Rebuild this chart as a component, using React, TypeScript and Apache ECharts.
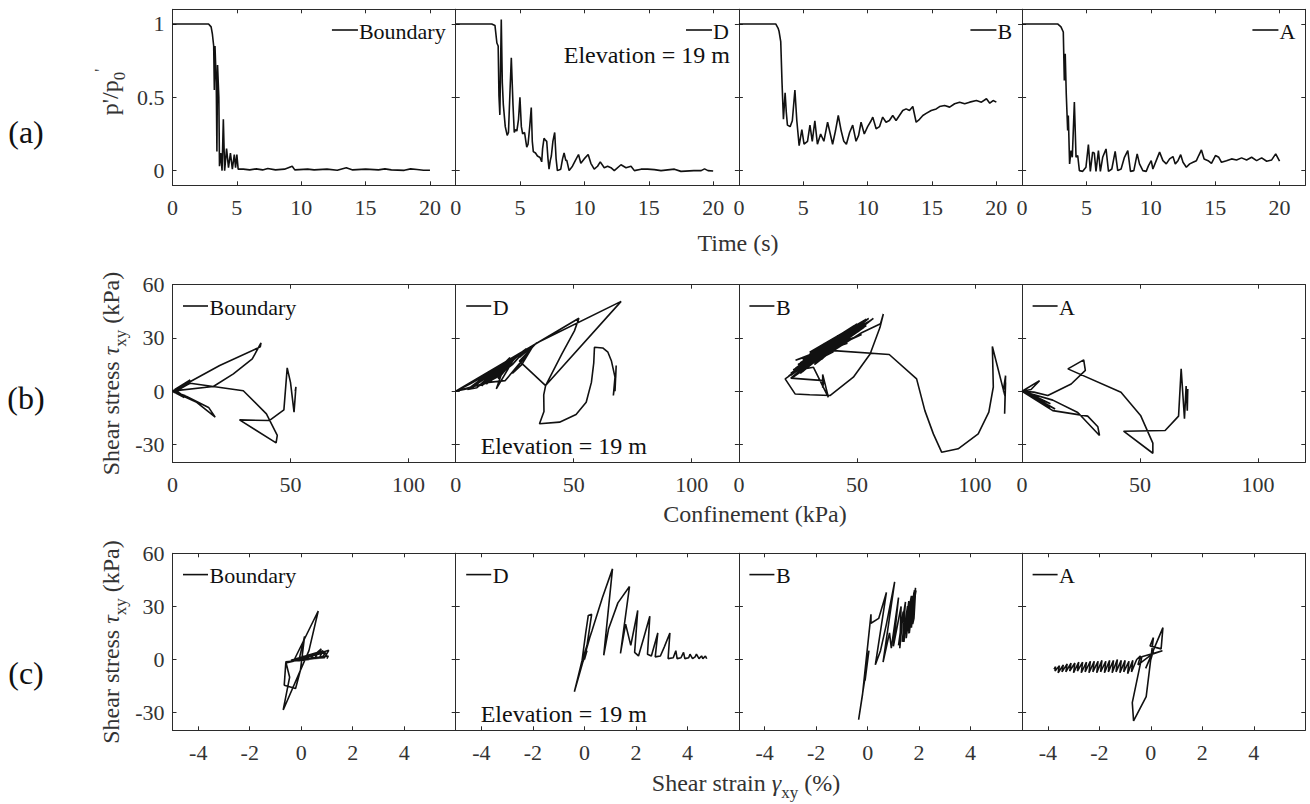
import React, { useEffect, useRef } from 'react';
import * as echarts from 'echarts';

const FONT = "'Liberation Serif', 'Times New Roman', serif";
const INK = '#333333';
const LINE = '#111111';

// ---------- categories / labels ----------
const panelNames = ['Boundary', 'D', 'B', 'A'];
const rowLetters = ['(a)', '(b)', '(c)'];
const elevationText = 'Elevation = 19 m';

// ---------- tick values ----------
const timeTicks = [0, 5, 10, 15, 20];
const ratioTicks = [0, 0.5, 1];
const confTicks = [0, 50, 100];
const stressTicks = [-30, 0, 30, 60];
const strainTicks = [-4, -2, 0, 2, 4];

// ---------- row (a): p'/p0' vs time ----------
const aBoundary: [number, number][] = [
  [0, 1], [2.8, 1], [3.0, 0.98], [3.1, 0.93], [3.2, 0.85], [3.25, 0.55], [3.3, 0.85], [3.4, 0.6], [3.45, 0.13],
  [3.5, 0.72], [3.6, 0.5], [3.65, 0.03], [3.75, 0.12], [3.85, 0.0], [3.95, 0.35], [4.05, 0.0], [4.2, 0.15],
  [4.35, 0.02], [4.5, 0.12], [4.65, 0.01], [4.8, 0.11], [4.9, 0.02], [5.0, 0.11], [5.1, 0.01], [5.5, 0.01],
  [6, 0.005], [6.5, 0.012], [7, 0.005], [7.4, 0.015], [8, 0.005], [8.7, 0.01], [9.3, 0.03], [9.5, 0.005],
  [10.5, 0.01], [11, 0.005], [12, 0.01], [12.8, 0.003], [13.5, 0.02], [14, 0.005], [15, 0.01], [16, 0.005],
  [16.5, 0.012], [17, 0.005], [18, 0.002], [18.5, 0.012], [19, 0.008], [19.5, 0.003], [20, 0.003],
];
const aD: [number, number][] = [
  [0, 1], [2.8, 1], [3.05, 0.99], [3.2, 0.87], [3.3, 0.85], [3.36, 0.51], [3.43, 0.38], [3.5, 0.8], [3.54, 1.03],
  [3.62, 0.6], [3.7, 0.45], [3.85, 0.3], [4.0, 0.24], [4.1, 0.26], [4.2, 0.5], [4.32, 0.77], [4.45, 0.45],
  [4.55, 0.26], [4.65, 0.28], [4.75, 0.27], [4.88, 0.35], [4.99, 0.5], [5.1, 0.3], [5.2, 0.25], [5.35, 0.26],
  [5.45, 0.2], [5.52, 0.16], [5.62, 0.18], [5.75, 0.3], [5.87, 0.43], [5.95, 0.2], [6.03, 0.13], [6.2, 0.12],
  [6.35, 0.1], [6.55, 0.09], [6.68, 0.06], [6.75, 0.15], [6.86, 0.22], [6.95, 0.21], [7.07, 0.2], [7.17, 0.08],
  [7.25, 0.01], [7.35, 0.07], [7.43, 0.1], [7.55, 0.2], [7.69, 0.26], [7.8, 0.08], [7.9, 0.0], [8.16, 0.01],
  [8.3, 0.08], [8.42, 0.12], [8.55, 0.07], [8.63, 0.07], [8.81, 0.0], [9.07, 0.03], [9.3, 0.07], [9.54, 0.11],
  [9.72, 0.05], [9.98, 0.08], [10.29, 0.11], [10.5, 0.05], [10.76, 0.01], [11.02, 0.03], [11.23, 0.06],
  [11.54, 0.02], [11.8, 0.03], [12.06, 0.02], [12.32, 0.0], [12.84, 0.04], [13.23, 0.02], [13.62, 0.03],
  [13.88, 0.0], [14.4, 0.01], [14.91, 0.01], [15.43, 0.007], [15.95, 0.0], [16.99, 0.01], [17.5, -0.005],
  [18.5, 0.0], [19.07, 0.0], [19.33, 0.012], [19.6, 0.0], [20, -0.003],
];
const aB: [number, number][] = [
  [0, 1], [2.86, 1], [3.05, 0.97], [3.12, 0.95], [3.25, 0.88], [3.35, 0.6], [3.46, 0.35], [3.59, 0.53], [3.68, 0.4],
  [3.77, 0.31], [3.98, 0.3], [4.15, 0.34], [4.35, 0.55], [4.5, 0.34], [4.68, 0.17], [4.89, 0.28], [5.06, 0.18],
  [5.33, 0.2], [5.52, 0.31], [5.7, 0.2], [5.9, 0.34], [6.1, 0.18], [6.35, 0.25], [6.6, 0.2], [6.89, 0.33],
  [7.1, 0.25], [7.28, 0.18], [7.5, 0.27], [7.72, 0.376], [7.95, 0.27], [8.15, 0.2], [8.35, 0.18], [8.6, 0.26],
  [8.84, 0.31], [9.1, 0.2], [9.3, 0.24], [9.49, 0.33], [9.74, 0.25], [10.0, 0.3], [10.27, 0.34], [10.4, 0.365],
  [10.66, 0.285], [10.92, 0.3], [11.17, 0.365], [11.43, 0.33], [11.69, 0.342], [11.95, 0.376], [12.21, 0.342],
  [12.47, 0.376], [12.73, 0.41], [12.99, 0.421], [13.25, 0.41], [13.51, 0.437], [13.77, 0.33], [14.03, 0.35],
  [14.29, 0.376], [14.55, 0.39], [14.94, 0.41], [15.33, 0.421], [15.59, 0.437], [15.98, 0.444], [16.37, 0.433],
  [16.76, 0.456], [17.15, 0.467], [17.54, 0.456], [17.93, 0.467], [18.45, 0.478], [18.84, 0.467], [19.23, 0.49],
  [19.49, 0.46], [19.75, 0.478], [20, 0.467],
];
const aA: [number, number][] = [
  [0, 1], [2.76, 1], [3.02, 0.98], [3.2, 0.945], [3.28, 0.615], [3.35, 0.797], [3.43, 0.524], [3.54, 0.274],
  [3.59, 0.376], [3.69, 0.046], [3.8, 0.137], [3.9, 0.091], [4.06, 0.467], [4.19, 0.091], [4.32, 0.103],
  [4.45, 0.0], [4.71, -0.005], [4.96, 0.023], [5.15, 0.178], [5.3, -0.005], [5.48, 0.126], [5.61, 0.119],
  [5.74, -0.005], [5.93, 0.137], [6.08, -0.005], [6.26, 0.091], [6.52, 0.148], [6.71, -0.005], [6.97, 0.011],
  [7.23, 0.132], [7.43, 0.0], [7.69, 0.011], [7.95, 0.091], [8.21, 0.137], [8.42, -0.005], [8.68, 0.0],
  [8.94, 0.114], [9.12, 0.046], [9.38, 0.0], [9.64, -0.005], [9.82, 0.034], [10.03, 0.068], [10.16, 0.011],
  [10.42, 0.068], [10.68, 0.126], [10.94, 0.068], [11.2, 0.046], [11.46, 0.08], [11.72, 0.096], [11.9, 0.046],
  [12.11, 0.068], [12.32, 0.109], [12.5, 0.057], [12.76, 0.023], [13.02, 0.046], [13.28, 0.057], [13.54, 0.068],
  [13.72, 0.103], [13.93, 0.141], [14.14, 0.08], [14.45, 0.068], [14.71, 0.05], [15.02, 0.103], [15.28, 0.091],
  [15.49, 0.057], [15.88, 0.068], [16.27, 0.08], [16.66, 0.073], [17.05, 0.087], [17.44, 0.073], [17.83, 0.091],
  [18.22, 0.068], [18.61, 0.087], [19.0, 0.064], [19.39, 0.073], [19.7, 0.114], [20.0, 0.064],
];

// ---------- row (b): shear stress vs confinement ----------
const bBoundary: [number, number][] = [
  [52, 0], [52.3, 2.5], [51.5, -11.8], [50, 5], [48.6, 13.2], [47.2, -10.5], [41, -16.5], [28.4, -16.1],
  [43.9, -29.1], [44.4, -24.9], [39.8, -12.7], [30, 0.3], [7.5, 4.5], [3, 1.5], [0.5, 0.2], [17.3, 2.7],
  [25.8, 9.8], [33.8, 18.2], [37.5, 27.2], [37.2, 25], [20, 14.5], [8, 5.8], [2, 1], [0, 0], [10, -6],
  [18.1, -14.6], [15.3, -9.1], [6, -3], [0, 0], [7.5, 6.4], [1, 1], [4, -2], [0.5, 0.5], [3, -1], [0, 0],
  [6, 3.5], [1.5, 0], [5, -3.5], [0, 0], [4, 2.5], [0.5, -0.5], [5.5, -2.5], [0, 0],
];
const bD: [number, number][] = [
  [67.5, 0], [68, 14.5], [67.8, 8], [66.8, -2.4], [67.5, 8], [66, 17], [64.5, 22], [62.3, 24.4], [58.8, 24.8],
  [58.5, 16], [57.5, 5], [55.3, -6.2], [51, -13.1], [44, -17.4], [35.5, -18.3], [37.4, -11.4], [37.3, -2],
  [38.1, 3.2], [70.1, 50.6], [34.1, 27], [27, 17], [38.1, 3.2], [45, 21], [50.3, 34], [52.2, 41.1], [0, 0],
  [8, 3], [30, 24], [24, 15], [14, 5], [28, 22], [20, 12], [17.2, 1.3], [25, 19], [19, 9], [12, 4], [22, 17],
  [16, 8], [10, 3], [19, 14], [9, 2], [5, 1], [15, 11], [0, 0], [30, 23], [27, 19], [33, 26], [28, 15],
  [24, 10], [31, 22], [21, 6], [14, 5], [0, 0], [6, 4], [22, 16], [14, 6], [26, 20], [18, 7], [23, 19],
  [11, 3], [21, 15], [13, 4], [17, 12], [7, 2], [0, 0],
];
const bB: [number, number][] = [
  [112, 0], [113, 8.8], [112.6, -12.7], [113, 5], [112.8, -3], [107.4, 25.2], [107.8, 2.4], [105.9, -11.8],
  [101.4, -24], [92.9, -32.4], [85.9, -34.3], [82.4, -24], [78.8, -10.9], [75.3, 7], [63.7, 20.7], [40.1, 22.9],
  [52, 33], [60, 38], [61.2, 43.5], [59.8, 36], [55.6, 21], [48.5, 7.9], [38.6, -2.4], [30, -2], [23.8, -1.5],
  [19.6, 7], [25, 12], [31.6, 13.5], [37.9, -3.4], [35.5, 9.5], [35.5, 2], [36, 6], [22, 7.4], [48, 36],
  [26, 16], [52, 32], [24, 17.5], [46, 27], [30, 22], [54, 40.6], [28, 12.3], [42, 31.4], [34, 17.2], [50, 38],
  [22, 10], [40, 22.2], [36, 26.8], [53, 36], [23, 8], [45, 33], [32, 15], [56, 40], [27, 18], [44, 26],
  [38, 28], [51, 34], [21, 8.5], [47, 34], [33, 20], [55, 39], [25, 11], [43, 30], [37, 21], [57, 41],
  [29, 15], [49, 35], [24, 13], [39, 27], [35, 18], [52, 38], [22, 9], [50, 37], [24, 9], [46, 33], [28, 17],
  [53, 39], [26, 10], [41, 30], [31, 17], [54, 37], [23, 12], [44, 28], [30, 21], [49, 37], [27, 11], [38, 26],
  [34, 18], [55, 41], [25, 15], [42, 27], [33, 23],
];
const bA: [number, number][] = [
  [70, 0], [70.2, 1.3], [70, -11], [69.5, 3], [68.8, -15.5], [67.4, 12.6], [66.3, -14], [60.6, -22.1], [43, -22.5],
  [55.4, -34.9], [55.4, -29.2], [50.2, -13.6], [41.9, -0.5], [19.4, 12.6], [26.1, 17.7], [26.8, 11.8],
  [20.8, 4.1], [10.9, -2.4], [5, -0.5], [0, 0], [7.4, 6], [3.8, 1], [0, 0], [13, -5], [23.6, -12],
  [32.8, -24.9], [32.1, -20], [27.8, -14], [13, -10.9], [0, 0], [10, -6], [3, -1], [12, -9], [2, -1],
  [14, -10], [0, 0], [9, -5], [4, -2], [11, -8], [0, 0], [12, -7], [2, -0.5], [10, -7.5], [0, 0],
];

// ---------- row (c): shear stress vs shear strain ----------
const cBoundary: [number, number][] = [
  [0, 0], [0.1, 2], [-0.1, -1], [0.13, 13.1], [-0.03, -6], [-0.22, -16.4], [-0.66, -14.5], [-0.6, -2],
  [-0.3, -1], [0.66, 27.4], [0.3, 5], [-0.7, -28.5], [-0.45, -10], [-0.6, -1.3], [0.3, 0], [0.78, 6],
  [0.5, 0.5], [-0.4, -0.5], [0.85, 5], [0.7, 0.8], [-0.2, 0], [0.95, 4], [0.8, 1], [0, 0.3], [1.07, 5.2],
  [0.9, 1], [0.2, 0.5], [1.05, 2], [1.0, 0.5],
];
const cD: [number, number][] = [
  [0, 0], [0.1, 5], [-0.1, -3], [0.2, 12], [-0.39, -18.2], [-0.25, -10], [-0.09, -0.4], [0.05, 15],
  [0.15, 24.9], [0.28, 25.5], [0.1, 8], [-0.05, 1], [0.3, 16.5], [0.7, 35], [1.09, 51.2], [0.75, 2.4],
  [0.94, 17.4], [1.3, 32], [1.75, 41.2], [1.4, 3.4], [1.6, 20], [1.8, 8], [2.07, 27.7], [1.95, 4], [2.1, 2],
  [2.3, 12], [2.54, 24.4], [2.45, 3], [2.6, 2], [2.85, 15], [2.75, 1.5], [2.95, 2], [3.1, 7], [3.32, 15],
  [3.25, 0.5], [3.45, 1], [3.55, 5], [3.6, 0.5], [3.75, 1], [3.85, 4], [3.9, 0.5], [4.05, 1], [4.1, 3],
  [4.2, 0.5], [4.3, 1.5], [4.35, 3], [4.45, 0.5], [4.55, 2], [4.6, 0.5], [4.7, 2], [4.75, 0.4],
];
const cB: [number, number][] = [
  [0, 0], [0.05, 5], [-0.1, -12], [0, -0.6], [-0.35, -34], [-0.2, -20], [0.13, 25.5], [0.13, 20.5],
  [0.43, 23.2], [0.73, 37.9], [0.3, -3], [0.5, 5], [0.73, 20], [1.05, 43.9], [0.6, -1.5], [0.85, 15],
  [0.92, 6.4], [1.2, 35], [1.0, 7.5], [1.3, 30], [1.25, 6.4], [1.38, 27], [1.2, 8], [1.47, 32.5], [1.35, 10],
  [1.55, 30], [1.41, 10], [1.6, 33], [1.5, 12], [1.65, 30], [1.6, 14.7], [1.75, 36], [1.62, 15], [1.8, 38],
  [1.7, 18], [1.86, 40.5], [1.75, 20], [1.8, 23.2], [1.85, 36], [1.4, 12], [1.7, 36], [1.55, 16], [1.82, 39],
  [1.68, 22], [1.88, 39],
];
const cA: [number, number][] = [
  [0, 0], [0.1, 5], [-0.2, -5], [0.47, 18], [0.4, 6], [-0.03, 7.7], [0.1, 12.4], [-0.18, -21], [-0.67, -34.7],
  [-0.72, -24.4], [-0.35, 1.5], [0.45, 5], [0.05, 3], [-0.5, -3], [-0.4, 2], [-0.55, 0], [-0.75, -7],
  [-0.7, -0.5], [-0.9, -8], [-0.85, -1], [-1.05, -7], [-1.0, -0.5], [-1.2, -7.5], [-1.15, -0.5], [-1.35, -7],
  [-1.3, 0], [-1.5, -7.5], [-1.45, -0.5], [-1.65, -7], [-1.6, -0.5], [-1.8, -7.5], [-1.75, -1], [-1.95, -7],
  [-1.9, -0.5], [-2.1, -7.5], [-2.05, -1], [-2.25, -7], [-2.2, -1], [-2.4, -7.5], [-2.35, -1], [-2.55, -7],
  [-2.5, -1.5], [-2.7, -7.5], [-2.65, -1.5], [-2.85, -6.5], [-2.8, -1.5], [-3.0, -7.5], [-2.95, -2],
  [-3.15, -6.5], [-3.1, -2], [-3.3, -7], [-3.25, -2.5], [-3.45, -7], [-3.4, -3], [-3.6, -7.5], [-3.55, -3.5],
  [-3.72, -6.5], [-3.7, -4], [-3.76, -5.5],
];

const rowSeries = [
  [aBoundary, aD, aB, aA],
  [bBoundary, bD, bB, bA],
  [cBoundary, cD, cB, cA],
];

// ---------- layout (px) ----------
const COL_LEFT = [172.5, 455.7, 738.9, 1022.1];
const COL_W = 283.2;
const ROW_TOP = [9.3, 284.7, 553.3];
const ROW_H = [176, 177.6, 177];

const rowAxes = [
  { xMin: 0, xMax: 22, xTicks: timeTicks, yMin: -0.1, yMax: 1.1, yTicks: ratioTicks },
  { xMin: 0, xMax: 120, xTicks: confTicks, yMin: -40, yMax: 60, yTicks: stressTicks },
  { xMin: -5, xMax: 6, xTicks: strainTicks, yMin: -40, yMax: 60, yTicks: stressTicks },
];

function measure(text: string, size: number): number {
  const ctx = document.createElement('canvas').getContext('2d');
  if (!ctx) return text.length * size * 0.5;
  ctx.font = `${size}px "Liberation Serif"`;
  return ctx.measureText(text).width;
}

function txt(x: number, y: number, text: string, size: number, align: string, extra: any = {}) {
  const { styleExtra, fill, ...rest } = extra;
  return {
    type: 'text',
    x,
    y,
    silent: true,
    ...rest,
    style: {
      text,
      fontSize: size,
      fontFamily: FONT,
      fill: fill || '#111',
      align,
      verticalAlign: 'middle',
      textAlign: align,
      textVerticalAlign: 'middle',
      ...(styleExtra || {}),
    },
  };
}

function seg(x1: number, y1: number, x2: number, y2: number) {
  return {
    type: 'line',
    silent: true,
    shape: { x1, y1, x2, y2 },
    style: { stroke: '#111', lineWidth: 1.6 },
  };
}

export default function App() {
  const ref = useRef<HTMLDivElement>(null);

  useEffect(() => {
    if (!ref.current) return;
    const chart = echarts.init(ref.current, null, { renderer: 'svg' });

    const grid: any[] = [];
    const xAxis: any[] = [];
    const yAxis: any[] = [];
    const series: any[] = [];
    const graphic: any[] = [];

    const axisLine = { show: true, onZero: false, lineStyle: { color: '#2b2b2b', width: 1 } };
    const labelBase = { fontSize: 22, fontFamily: FONT, color: INK };

    for (let r = 0; r < 3; r++) {
      const ax = rowAxes[r];
      for (let c = 0; c < 4; c++) {
        const g = r * 4 + c;
        grid.push({ left: COL_LEFT[c], top: ROW_TOP[r], width: COL_W, height: ROW_H[r], containLabel: false });
        const xb = {
          gridIndex: g, type: 'value', min: ax.xMin, max: ax.xMax, position: 'bottom',
          axisLine, splitLine: { show: false },
          axisTick: { show: true, inside: true, length: 4, customValues: ax.xTicks, lineStyle: { color: '#2b2b2b' } },
          axisLabel: { show: true, customValues: ax.xTicks, margin: 11, showMinLabel: true, showMaxLabel: true, ...labelBase, formatter: (v: number) => String(v) },
        };
        const xt = { ...xb, position: 'top', axisLabel: { show: false } };
        const yl = {
          gridIndex: g, type: 'value', min: ax.yMin, max: ax.yMax, position: 'left',
          axisLine, splitLine: { show: false },
          axisTick: { show: true, inside: true, length: 4, customValues: ax.yTicks, lineStyle: { color: '#2b2b2b' } },
          axisLabel: c === 0
            ? { show: true, customValues: ax.yTicks, margin: 8, showMinLabel: true, showMaxLabel: true, ...labelBase, formatter: (v: number) => String(v) }
            : { show: false },
        };
        const yr = { ...yl, position: 'right', axisLabel: { show: false } };
        xAxis.push(xb, xt);
        yAxis.push(yl, yr);
        series.push({
          type: 'line',
          xAxisIndex: 2 * g,
          yAxisIndex: 2 * g,
          data: rowSeries[r][c],
          showSymbol: false,
          symbol: 'none',
          clip: true,
          silent: true,
          lineStyle: { color: LINE, width: 1.6 },
        });

        // legends
        const name = panelNames[c];
        if (r === 0) {
          const right = COL_LEFT[c] + COL_W - 10;
          const w = measure(name, 22);
          const ly = ROW_TOP[r] + 20.7;
          graphic.push(seg(right - w - 27, ly, right - w - 1, ly));
          graphic.push(txt(right, ly + 1, name, 22, 'right'));
          if (c === 1) graphic.push(txt(right + 1, ROW_TOP[r] + 45.5, elevationText, 24, 'right'));
        } else {
          const left = COL_LEFT[c] + 10.5;
          const ly = ROW_TOP[r] + 21.3;
          graphic.push(seg(left, ly, left + 25, ly));
          graphic.push(txt(left + 26.5, ly + 1, name, 22, 'left'));
          if (c === 1) graphic.push(txt(COL_LEFT[c] + 25, ROW_TOP[r] + ROW_H[r] - 16.5, elevationText, 24, 'left'));
        }
      }
    }

    // row letters
    const letterY = [132, 398, 673];
    for (let r = 0; r < 3; r++) graphic.push(txt(26, letterY[r], rowLetters[r], 32, 'center'));

    // axis titles
    const sub = { fontSize: 17, fontFamily: FONT, fill: INK, color: INK, lineHeight: 17, verticalAlign: 'bottom' };
    const sup = { fontSize: 17, fontFamily: FONT, fill: INK, color: INK, lineHeight: 17, verticalAlign: 'top' };
    const main = { fontSize: 24, fontFamily: FONT, fill: INK, color: INK, lineHeight: 36 };
    const it = { ...main, fontStyle: 'italic' };
    const richStyle = { lineHeight: 36, rich: { sub, sup, it, m: main } };

    graphic.push(txt(110, 92, "{m|p'/p}{sub|0}{sup|'}", 24, 'center', { rotation: Math.PI / 2, fill: INK, styleExtra: richStyle }));
    graphic.push(txt(738, 243, 'Time (s)', 24, 'center', { fill: INK }));
    graphic.push(txt(111, 373.5, '{m|Shear stress }{it|τ}{sub|xy}{m| (kPa)}', 24, 'center', { rotation: Math.PI / 2, fill: INK, styleExtra: richStyle }));
    graphic.push(txt(755, 514, 'Confinement (kPa)', 24, 'center', { fill: INK }));
    graphic.push(txt(111, 642, '{m|Shear stress }{it|τ}{sub|xy}{m| (kPa)}', 24, 'center', { rotation: Math.PI / 2, fill: INK, styleExtra: richStyle }));
    graphic.push(txt(746, 783, '{m|Shear strain }{it|γ}{sub|xy}{m| (%)}', 24, 'center', { fill: INK, styleExtra: richStyle }));

    chart.setOption({
      animation: false,
      backgroundColor: '#ffffff',
      grid,
      xAxis,
      yAxis,
      series,
      graphic,
    });

    return () => chart.dispose();
  }, []);

  return (
    <div
      ref={ref}
      style={{ position: 'fixed', left: 0, top: 0, width: 1310, height: 804, background: '#fff' }}
    />
  );
}
